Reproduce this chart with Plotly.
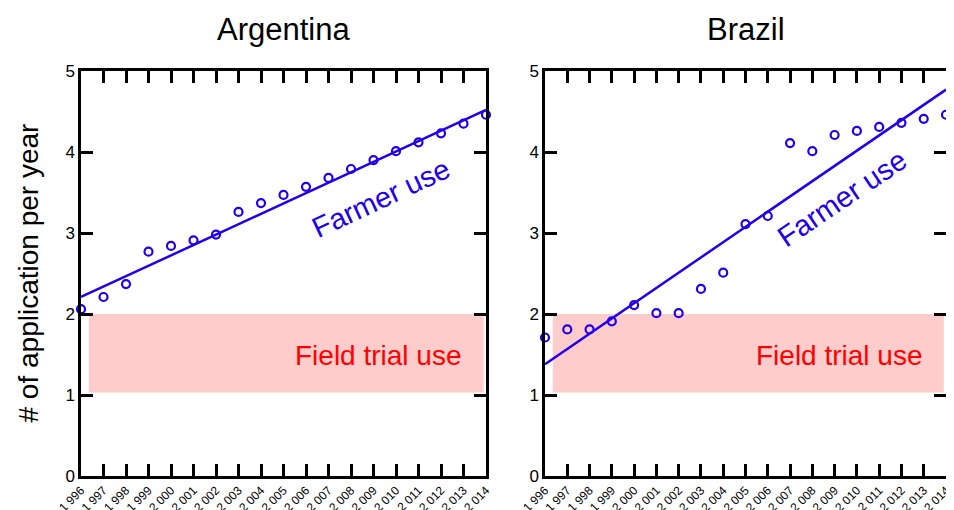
import plotly.graph_objects as go

years = list(range(1996, 2015))
tick_labels = ["1 996", "1 997", "1 998", "1 999", "2 000", "2 001", "2 002", "2 003", "2 004",
               "2 005", "2 006", "2 007", "2 008", "2 009", "2 010", "2 011", "2 012", "2 013", "2 014"]

argentina = [2.06, 2.21, 2.37, 2.77, 2.84, 2.91, 2.98, 3.26, 3.37, 3.47, 3.57, 3.68,
             3.79, 3.90, 4.01, 4.12, 4.23, 4.35, 4.46]
brazil = [1.71, 1.81, 1.81, 1.91, 2.11, 2.01, 2.01, 2.31, 2.51, 3.11, 3.21, 4.11,
          4.01, 4.21, 4.26, 4.31, 4.36, 4.41, 4.46]

fit_years = [1996, 2014]
fit_argentina = [2.21, 4.52]
fit_brazil = [1.38, 4.77]

field_trial_range = [1.03, 2.0]

BLUE = "#2200ee"
OFF = 8                      # page body margin of the viewer
W, H = 954 - OFF, 510 - OFF  # figure fits the window after the body margin
FONT = "Liberation Sans, Arial, sans-serif"


def px_x(p):
    return (p - OFF) / W


def px_y(p):
    return 1 - (p - OFF) / H


fig = go.Figure()

panels = [
    ("x", "y", argentina, fit_argentina, -25),
    ("x2", "y2", brazil, fit_brazil, -34),
]

for xa, ya, vals, fit, ang in panels:
    fig.add_trace(go.Scatter(x=fit_years, y=fit, mode="lines", xaxis=xa, yaxis=ya,
                             line=dict(color=BLUE, width=2.5), showlegend=False))
    fig.add_trace(go.Scatter(x=years, y=vals, mode="markers", xaxis=xa, yaxis=ya,
                             marker=dict(symbol="circle-open", size=8, color=BLUE,
                                         line=dict(width=2.2, color=BLUE)),
                             cliponaxis=False, showlegend=False))
    fig.add_shape(type="rect", xref=xa, yref=ya, x0=1996.35, x1=2013.9,
                  y0=field_trial_range[0], y1=field_trial_range[1],
                  fillcolor="#ffcccc", line=dict(width=0), layer="below")
    fig.add_annotation(xref=xa, yref=ya, x=2009.2, y=1.49, text="Field trial use",
                       showarrow=False, xanchor="center", yanchor="middle",
                       font=dict(size=28, color="#ff0000", family=FONT))
    fig.add_annotation(xref=xa, yref=ya, x=2009.35, y=3.43, text="Farmer use", textangle=ang,
                       showarrow=False, xanchor="center", yanchor="middle",
                       font=dict(size=29, color=BLUE, family=FONT))

dom1 = [px_x(81), px_x(486)]
dom2 = [px_x(545), px_x(946)]
ydom = [px_y(476), px_y(71)]

xcommon = dict(range=[1996, 2014], tickvals=years, ticktext=tick_labels, tickangle=-45,
               ticks="inside", ticklen=12, tickwidth=2.5, tickcolor="black",
               showline=True, linewidth=2.5, linecolor="black", mirror="ticks",
               showgrid=False, zeroline=False, automargin=False,
               tickfont=dict(size=12, color="black", family=FONT))
ycommon = dict(range=[0, 5], tickvals=[0, 1, 2, 3, 4, 5], ticks="inside", ticklen=12,
               tickwidth=2.5, tickcolor="black", showline=True, linewidth=2.5,
               linecolor="black", mirror="ticks", showgrid=False, zeroline=False,
               automargin=False,
               tickfont=dict(size=17, color="black", family=FONT))

fig.update_layout(
    template="none",
    width=W, height=H, margin=dict(l=0, r=0, t=0, b=0, pad=0),
    paper_bgcolor="white", plot_bgcolor="white",
    xaxis=dict(domain=dom1, anchor="y", **xcommon),
    yaxis=dict(domain=ydom, anchor="x", **ycommon),
    xaxis2=dict(domain=dom2, anchor="y2", **xcommon),
    yaxis2=dict(domain=ydom, anchor="x2", **ycommon),
)

for name, dom in (("Argentina", dom1), ("Brazil", dom2)):
    fig.add_annotation(xref="paper", yref="paper", x=(dom[0] + dom[1]) / 2, y=px_y(30),
                       text=name, showarrow=False, xanchor="center", yanchor="middle",
                       font=dict(size=31, color="black", family=FONT))

fig.add_annotation(xref="paper", yref="paper", x=px_x(28), y=(ydom[0] + ydom[1]) / 2,
                   text="# of application per year", textangle=-90, showarrow=False,
                   xanchor="center", yanchor="middle",
                   font=dict(size=28, color="black", family=FONT))

fig.write_html("out.html")
